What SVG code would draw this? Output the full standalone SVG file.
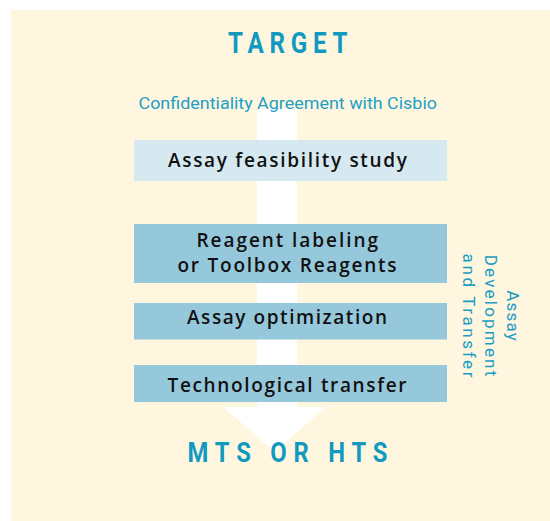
<svg xmlns="http://www.w3.org/2000/svg" width="550" height="521" viewBox="0 0 550 521">
<style>
.bg{fill:#FEF6DF}
.b1{fill:#D6E9F1}
.b2{fill:#96C8DC}
.lbl{font-family:"Open Sans","Noto Sans",sans-serif;font-weight:600;font-size:19px;fill:#111111}
.head{font-family:Roboto,"Liberation Sans",sans-serif;font-weight:700;fill:#1199C0}
.sub{font-family:Roboto,"Liberation Sans",sans-serif;font-weight:400;font-size:16px;fill:#22A0C6}
.vert{font-family:Roboto,"Liberation Sans",sans-serif;font-weight:400;font-size:17px;fill:#1A9CC3}
.arrow{fill:#FFFFFF}
</style>
<rect class="bg" x="11" y="10" width="539" height="511"/>
<g id="connectors">
<rect class="arrow" x="257" y="108" width="40" height="300"/>
<polygon class="arrow" points="223.5,407 325.5,407 274.5,452"/>
</g>
<g id="target">
<text class="head" transform="translate(228,53.3) scale(0.82,1)" x="0" y="0" font-size="29.5" textLength="145.7" lengthAdjust="spacing">TARGET</text>
</g>
<g id="confidentiality">
<text class="sub" x="138.5" y="109.3" textLength="298.5" lengthAdjust="spacingAndGlyphs">Confidentiality Agreement with Cisbio</text>
</g>
<g id="feasibility">
<rect class="b1" x="134" y="140" width="313" height="41"/>
<text class="lbl" x="168" y="166.7" textLength="239" lengthAdjust="spacing">Assay feasibility study</text>
</g>
<g id="reagent">
<rect class="b2" x="134" y="224" width="313" height="59"/>
<text class="lbl" x="196.5" y="247.3" textLength="181.5" lengthAdjust="spacing">Reagent labeling</text>
<text class="lbl" x="177.5" y="271.7" textLength="219" lengthAdjust="spacing">or Toolbox Reagents</text>
</g>
<g id="optimization">
<rect class="b2" x="134" y="303" width="313" height="36.5"/>
<text class="lbl" x="187" y="324" textLength="200" lengthAdjust="spacing">Assay optimization</text>
</g>
<g id="transfer">
<rect class="b2" x="134" y="365" width="313" height="37"/>
<text class="lbl" x="167.5" y="392" textLength="239" lengthAdjust="spacing">Technological transfer</text>
</g>
<g id="mts">
<text class="head" transform="translate(187.5,461.7) scale(0.85,1)" x="0" y="0" font-size="28" textLength="235.3" lengthAdjust="spacing">MTS OR HTS</text>
</g>
<g id="assay-dev-label" transform="translate(506.7,315.5) rotate(90)">
<text class="vert" x="0" y="0" text-anchor="middle" textLength="50.5" lengthAdjust="spacing">Assay</text>
<text class="vert" x="0" y="22" text-anchor="middle" textLength="121.5" lengthAdjust="spacing">Development</text>
<text class="vert" x="0" y="44" text-anchor="middle" textLength="124" lengthAdjust="spacing">and Transfer</text>
</g>
</svg>
